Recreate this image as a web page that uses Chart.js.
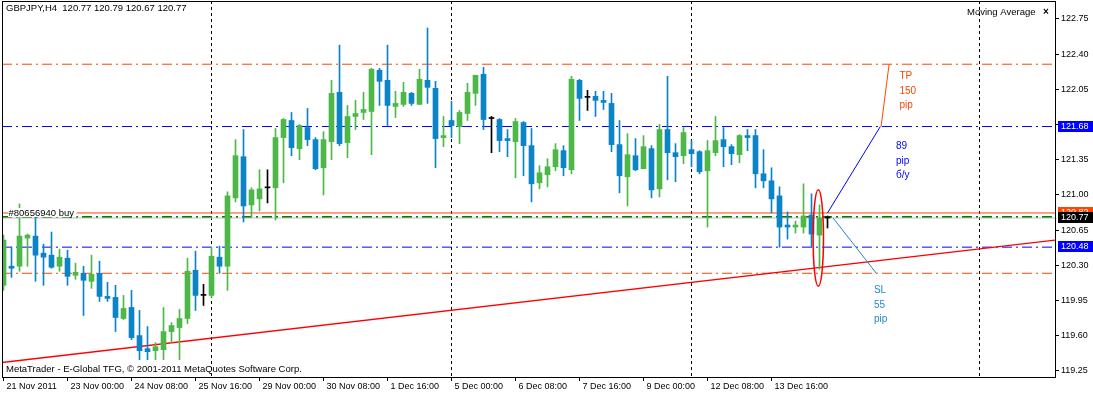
<!DOCTYPE html>
<html>
<head>
<meta charset="utf-8">
<script src="https://cdn.jsdelivr.net/npm/chart.js@4.4.0/dist/chart.umd.min.js"></script>
<style>
  html, body { margin: 0; padding: 0; background: #fff; }
  #wrap { width: 1093px; height: 394px; }
</style>
</head>
<body>
<div id="wrap"><canvas id="chart" width="1093" height="394"></canvas></div>
<script>
// GBPJPY H4 bars, oldest first
const opens = [
  120.10, 120.29, 120.29, 120.57, 120.59, 120.42, 120.40, 120.29, 120.37, 120.20,
  120.22, 120.14, 120.22, 119.99, 119.98, 119.77, 119.88, 119.60, 119.47, 119.45,
  119.46, 119.64, 119.68, 119.77, 120.25, 120.00, 120.00, 120.38, 120.29, 120.97,
  121.38, 120.90, 120.96, 121.07, 121.07, 121.57, 121.74, 121.46, 121.67, 121.55,
  121.27, 121.53, 122.02, 121.52, 121.78, 121.82, 121.83, 122.24, 122.14, 121.88,
  121.90, 122.01, 121.90, 122.14, 122.06, 121.57, 121.74, 121.68, 121.81, 122.01,
  122.20, 121.76, 121.75, 121.56, 121.53, 121.72, 121.49, 121.12, 121.20, 121.28,
  121.44, 121.25, 122.14, 121.97, 121.98, 121.94, 121.91, 121.50, 121.18, 121.39,
  121.26, 121.46, 121.06, 121.65, 121.42, 121.39, 121.45, 121.43, 121.24, 121.42,
  121.55, 121.48, 121.40, 121.59, 121.59, 121.21, 121.14, 120.99, 120.70, 120.68,
  120.68, 120.80, 120.60, 120.77
];
const highs = [
  120.60, 120.48, 120.91, 120.61, 120.78, 120.51, 120.63, 120.46, 120.45, 120.32,
  120.29, 120.40, 120.34, 120.13, 120.10, 120.00, 120.05, 119.85, 119.69, 119.53,
  119.88, 119.73, 119.86, 120.37, 120.44, 120.11, 120.48, 120.49, 121.03, 121.55,
  121.65, 121.07, 121.25, 121.25, 121.66, 121.76, 121.82, 121.70, 121.86, 121.57,
  121.63, 122.14, 122.49, 121.89, 121.94, 122.02, 122.26, 122.26, 122.49, 122.03,
  122.12, 122.02, 122.25, 122.66, 122.13, 121.78, 121.93, 121.84, 122.11, 122.19,
  122.27, 121.78, 121.76, 121.65, 121.76, 121.73, 121.66, 121.29, 121.36, 121.51,
  121.49, 122.18, 122.15, 122.04, 122.03, 122.03, 122.01, 121.74, 121.61, 121.56,
  121.59, 121.49, 121.70, 122.18, 121.51, 121.67, 121.54, 121.44, 121.54, 121.78,
  121.67, 121.50, 121.60, 121.65, 121.65, 121.45, 121.27, 121.08, 120.83, 120.74,
  121.11, 121.01, 120.90, 120.79
];
const lows = [
  120.05, 120.18, 120.24, 120.29, 120.14, 120.10, 120.27, 120.24, 120.10, 120.16,
  119.80, 120.07, 119.94, 119.94, 119.64, 119.76, 119.56, 119.36, 119.36, 119.36,
  119.36, 119.53, 119.36, 119.72, 119.85, 119.90, 119.98, 120.22, 120.05, 120.93,
  120.73, 120.78, 120.84, 120.92, 120.75, 121.12, 121.39, 121.35, 121.49, 121.25,
  121.00, 121.35, 121.49, 121.37, 121.65, 121.75, 121.40, 121.89, 121.69, 121.77,
  121.88, 121.89, 121.90, 121.91, 121.27, 121.48, 121.57, 121.51, 121.74, 121.89,
  121.65, 121.42, 121.43, 121.38, 121.17, 121.19, 120.93, 121.06, 121.08, 121.24,
  121.19, 121.21, 121.74, 121.84, 121.78, 121.85, 121.43, 121.02, 120.89, 121.24,
  121.26, 120.97, 120.98, 121.15, 121.13, 121.31, 121.28, 121.21, 120.68, 121.39,
  121.28, 121.30, 121.32, 121.44, 121.07, 121.07, 120.82, 120.48, 120.56, 120.62,
  120.62, 120.48, 120.26, 120.67
];
const closes = [
  120.55, 120.27, 120.59, 120.60, 120.40, 120.38, 120.28, 120.38, 120.19, 120.23,
  120.15, 120.21, 119.99, 119.97, 119.78, 119.87, 119.58, 119.45, 119.44, 119.49,
  119.64, 119.70, 119.77, 120.24, 120.00, 120.00, 120.39, 120.29, 120.99, 121.39,
  120.89, 121.05, 121.06, 121.07, 121.57, 121.75, 121.47, 121.69, 121.55, 121.26,
  121.55, 122.01, 121.51, 121.78, 121.81, 121.85, 122.25, 122.13, 121.89, 121.91,
  122.02, 121.91, 122.15, 122.07, 121.56, 121.59, 121.69, 121.82, 122.02, 122.19,
  121.75, 121.76, 121.54, 121.54, 121.73, 121.49, 121.11, 121.22, 121.28, 121.45,
  121.27, 122.15, 121.96, 121.97, 121.94, 121.92, 121.50, 121.19, 121.40, 121.25,
  121.48, 121.05, 121.65, 121.42, 121.38, 121.62, 121.41, 121.23, 121.44, 121.54,
  121.48, 121.41, 121.59, 121.57, 121.21, 121.14, 120.96, 120.68, 120.68, 120.70,
  120.79, 120.61, 120.77, 120.77
];

const dateTicks = [0, 8, 16, 24, 32, 40, 48, 56, 64, 72, 80, 88, 96];
const dateLabels = ['21 Nov 2011', '23 Nov 00:00', '24 Nov 08:00', '25 Nov 16:00', '29 Nov 00:00',
  '30 Nov 08:00', '1 Dec 16:00', '5 Dec 00:00', '6 Dec 08:00', '7 Dec 16:00', '9 Dec 00:00',
  '12 Dec 08:00', '13 Dec 16:00'];
const priceTicks = [119.25, 119.60, 119.95, 120.30, 120.65, 121.00, 121.35, 121.70, 122.05, 122.40, 122.75];
const weekStarts = [26, 56, 86, 122];

// levels and drawn objects
const tpLevel = 122.30;
const targetLevel = 121.68;
const entryLevel = 120.82;
const greenLevel = 120.78;
const bidLevel = 120.77;
const supportLevel = 120.48;
const stopLevel = 120.22;
const trendLine = [{ x: -0.44, y: 119.33 }, { x: 131.44, y: 120.55 }];
const toTarget = [{ x: 103, y: 120.82 }, { x: 109.6, y: 121.68 }];
const toTp = [{ x: 109.7, y: 121.68 }, { x: 110.7, y: 122.30 }];
const toStop = [{ x: 103.7, y: 120.77 }, { x: 109.1, y: 120.22 }];
const ellipseBox = { x0: 101.2, x1: 102.5, y0: 120.09, y1: 121.05 };
const tagValues = [121.68, 120.82, 120.77, 120.48];
const notes = [
  { x: 112.0, y: 122.18, lines: ['TP', '150', 'pip'] },
  { x: 111.55, y: 121.48, lines: ['89', 'pip', 'б/у'] },
  { x: 108.8, y: 120.05, lines: ['SL', '55', 'pip'] }
];

const X_MIN = -0.1875, X_MAX = 131.4375;
const GREEN = '#4DB848', BLUE = '#0A84C6', ORANGE = '#FF4500';
const noteColors = [ORANGE, '#0000FF', '#1E88C8'];
const tagColors = ['#0000FF', ORANGE, '#000000', '#0000FF'];
const FONT = '"Liberation Sans", Arial, sans-serif';

Chart.defaults.font.family = FONT;
Chart.defaults.font.size = 9;
Chart.defaults.color = '#000';

const idx = opens.map((_, i) => i);
const candleColor = i => closes[i] > opens[i] ? GREEN : (closes[i] < opens[i] ? BLUE : '#000');

function hline(v, color, dash, width) {
  return {
    type: 'line', data: [{ x: X_MIN, y: v }, { x: X_MAX, y: v }],
    borderColor: color, borderDash: dash, borderWidth: width,
    pointRadius: 0, order: 5
  };
}
function seg(points, color, width) {
  return { type: 'line', data: points, borderColor: color, borderWidth: width, pointRadius: 0, order: 0 };
}

const dashDot = [10, 4, 2, 4];

const overlay = {
  id: 'overlay',
  beforeDatasetsDraw(chart) {
    const { ctx, chartArea: a, scales: { x } } = chart;
    ctx.save();
    ctx.strokeStyle = '#000';
    ctx.lineWidth = 1;
    ctx.setLineDash([3, 3]);
    weekStarts.forEach(w => {
      const px = Math.floor(x.getPixelForValue(w)) + 0.5;
      ctx.beginPath();
      ctx.moveTo(px, a.top);
      ctx.lineTo(px, a.bottom);
      ctx.stroke();
    });
    ctx.restore();
  },
  afterDatasetsDraw(chart) {
    const { ctx, chartArea: a, scales: { x, y } } = chart;
    ctx.save();

    // ellipse round the last bars
    const ex0 = x.getPixelForValue(ellipseBox.x0), ex1 = x.getPixelForValue(ellipseBox.x1);
    const ey0 = y.getPixelForValue(ellipseBox.y0), ey1 = y.getPixelForValue(ellipseBox.y1);
    ctx.strokeStyle = '#FF0000';
    ctx.lineWidth = 1.5;
    ctx.beginPath();
    ctx.ellipse((ex0 + ex1) / 2, (ey0 + ey1) / 2, Math.abs(ex1 - ex0) / 2, Math.abs(ey1 - ey0) / 2, 0, 0, Math.PI * 2);
    ctx.stroke();

    // order label on the entry line
    const ey = y.getPixelForValue(entryLevel);
    ctx.font = '9.5px ' + FONT;
    ctx.textBaseline = 'middle';
    ctx.textAlign = 'left';
    const label = '#80656940 buy';
    const w = ctx.measureText(label).width;
    ctx.fillStyle = '#fff';
    ctx.fillRect(a.left + 6, ey - 5, w + 3, 9);
    ctx.fillStyle = '#000';
    ctx.fillText(label, a.left + 6.5, ey);

    // notes
    ctx.font = '10px ' + FONT;
    notes.forEach((n, k) => {
      ctx.fillStyle = noteColors[k];
      const nx = x.getPixelForValue(n.x), ny = y.getPixelForValue(n.y);
      n.lines.forEach((t, j) => ctx.fillText(t, nx, ny + j * 14.5));
    });

    // header, indicator name, copyright
    ctx.fillStyle = '#000';
    ctx.font = '9.5px ' + FONT;
    ctx.fillText('GBPJPY,H4  120.77 120.79 120.67 120.77', a.left + 4, a.top + 7);
    ctx.fillText('Moving Average', 967, a.top + 11);
    ctx.font = 'bold 10px ' + FONT;
    ctx.fillText('×', 1043, a.top + 11);
    ctx.font = '9.5px ' + FONT;
    ctx.fillText('MetaTrader - E-Global TFG, © 2001-2011 MetaQuotes Software Corp.', a.left + 4, a.bottom - 8);

    // frame
    ctx.strokeStyle = '#000';
    ctx.lineWidth = 1;
    ctx.strokeRect(a.left + 0.5, a.top + 0.5, a.right - a.left, a.bottom - a.top);
    ctx.restore();
  },
  afterDraw(chart) {
    const { ctx, chartArea: a, scales: { y } } = chart;
    ctx.save();
    ctx.font = '9px ' + FONT;
    ctx.textBaseline = 'middle';
    ctx.textAlign = 'left';
    tagValues.forEach((v, k) => {
      const py = Math.round(y.getPixelForValue(v));
      ctx.fillStyle = tagColors[k];
      ctx.fillRect(a.right + 3, py - 6, 35, 11);
      ctx.fillStyle = '#fff';
      ctx.fillText(v.toFixed(2), a.right + 6, py);
    });
    ctx.restore();
  }
};

new Chart(document.getElementById('chart'), {
  type: 'bar',
  data: {
    datasets: [
      {
        type: 'bar',
        data: idx.map(i => ({ x: i, y: [opens[i], closes[i]] })),
        backgroundColor: idx.map(candleColor),
        barThickness: 5, minBarLength: 1, grouped: false, borderWidth: 0, order: 1
      },
      {
        type: 'bar',
        data: idx.map(i => ({ x: i, y: [lows[i], highs[i]] })),
        backgroundColor: idx.map(candleColor),
        barThickness: 1, grouped: false, borderWidth: 0, order: 2
      },
      hline(tpLevel, ORANGE, dashDot, 1),
      hline(targetLevel, '#0000FF', dashDot, 1),
      hline(supportLevel, '#0000FF', dashDot, 1),
      hline(stopLevel, ORANGE, dashDot, 1),
      hline(bidLevel, '#C0C0C0', [], 1),
      hline(greenLevel, '#008000', dashDot, 2),
      hline(entryLevel, ORANGE, [], 1),
      Object.assign(seg(trendLine, '#FF0000', 1.3), { order: 4 }),
      seg(toTarget, '#0000FF', 1),
      seg(toTp, ORANGE, 1),
      seg(toStop, '#1E88C8', 1)
    ]
  },
  options: {
    responsive: false,
    animation: false,
    events: [],
    layout: { padding: { left: 2, top: 1, right: 0, bottom: 0 } },
    plugins: { legend: { display: false }, tooltip: { enabled: false } },
    scales: {
      x: {
        type: 'linear', min: X_MIN, max: X_MAX, offset: false,
        afterBuildTicks: s => { s.ticks = dateTicks.map(v => ({ value: v })); },
        afterFit: s => { s.height = 17; s.paddingLeft = 0; s.paddingRight = 0; },
        grid: { display: true, offset: false, drawOnChartArea: false, drawTicks: true, tickLength: 4, color: '#000' },
        border: { display: false },
        ticks: {
          autoSkip: false, maxRotation: 0, minRotation: 0, align: 'start', labelOffset: 3, padding: 0,
          callback: v => dateLabels[dateTicks.indexOf(v)]
        }
      },
      y: {
        type: 'linear', position: 'right', min: 119.188, max: 122.929, beginAtZero: false,
        afterBuildTicks: s => { s.ticks = priceTicks.map(v => ({ value: v })); },
        afterFit: s => { s.width = 38; s.paddingTop = 0; s.paddingBottom = 0; },
        grid: { drawOnChartArea: false, tickLength: 4, color: '#000' },
        border: { display: false },
        ticks: { padding: 2, callback: v => v.toFixed(2) }
      }
    }
  },
  plugins: [overlay]
});
</script>
</body>
</html>
